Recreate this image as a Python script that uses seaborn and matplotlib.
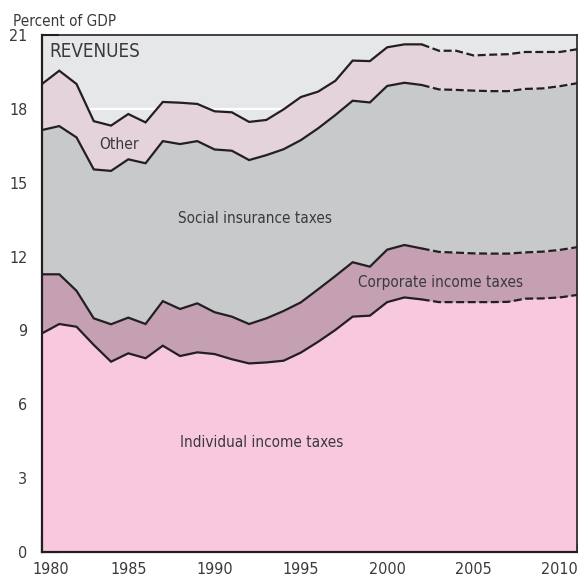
import matplotlib
matplotlib.use("Agg")
import matplotlib.pyplot as plt
import matplotlib.transforms as mtransforms
import numpy as np
import pandas as pd
import seaborn as sns

# Federal revenues by source, percent of GDP (actual through 2002, projected after)
years = list(range(1980, 2012))
individual = [8.88, 9.26, 9.15, 8.41, 7.73, 8.07, 7.87, 8.38, 7.96, 8.11,
              8.04, 7.83, 7.66, 7.70, 7.77, 8.10, 8.54, 9.02, 9.56, 9.60,
              10.15, 10.34, 10.26, 10.15, 10.15, 10.15, 10.15, 10.16, 10.29, 10.30,
              10.34, 10.44]
corporate = [2.40, 2.02, 1.46, 1.08, 1.52, 1.45, 1.39, 1.81, 1.91, 1.99,
             1.70, 1.73, 1.60, 1.79, 2.02, 2.04, 2.13, 2.19, 2.21, 1.99,
             2.13, 2.13, 2.07, 2.04, 2.01, 1.98, 1.97, 1.96, 1.88, 1.90,
             1.93, 1.94]
social_insurance = [5.86, 6.02, 6.23, 6.05, 6.23, 6.43, 6.53, 6.50, 6.70, 6.59,
                    6.61, 6.74, 6.66, 6.63, 6.57, 6.59, 6.54, 6.54, 6.56, 6.67,
                    6.65, 6.59, 6.64, 6.60, 6.61, 6.61, 6.60, 6.60, 6.64, 6.63,
                    6.65, 6.66]
other = [1.87, 2.25, 2.17, 1.96, 1.84, 1.84, 1.66, 1.59, 1.68, 1.51,
         1.55, 1.56, 1.55, 1.43, 1.62, 1.75, 1.49, 1.39, 1.63, 1.68,
         1.57, 1.56, 1.65, 1.57, 1.59, 1.43, 1.48, 1.50, 1.50, 1.48,
         1.39, 1.38]
last_actual_year = 2002

category_names = ["Individual income taxes", "Corporate income taxes",
                  "Social insurance taxes", "Other"]
y_ticks = [0, 3, 6, 9, 12, 15, 18, 21]
x_major_ticks = [1980, 1985, 1990, 1995, 2000, 2005, 2010]

colors = {
    "Individual income taxes": "#f8c9de",
    "Corporate income taxes": "#c5a0b2",
    "Social insurance taxes": "#c8c9cb",
    "Other": "#e4d3db",
}
bg_color = "#e6e7e9"
line_color = "#231f20"
text_color = "#3a3a3a"

sns.set_style("white")
plt.rcParams["font.family"] = ["DejaVu Sans"]
plt.rcParams["font.stretch"] = "condensed"
plt.rcParams["font.size"] = 11

df = pd.DataFrame({
    "year": years,
    "Individual income taxes": individual,
    "Corporate income taxes": corporate,
    "Social insurance taxes": social_insurance,
    "Other": other,
})
stacked = df[category_names].cumsum(axis=1)
stacked["year"] = df["year"]

fig = plt.figure(figsize=(5.78, 5.77), dpi=100)
ax = fig.add_axes([42 / 578, 25 / 577, 535 / 578, 517 / 577])
ax.set_facecolor(bg_color)

# White horizontal rules behind the filled bands
for yv in y_ticks:
    ax.axhline(yv, color="white", lw=1.6, zorder=0.5)

# Stacked bands
lower = np.zeros(len(years))
for name in category_names:
    upper = stacked[name].to_numpy()
    ax.fill_between(years, lower, upper, color=colors[name], lw=0, zorder=1)
    lower = upper

# Boundary lines: solid for actual years, dashed for projections
actual = stacked[stacked["year"] <= last_actual_year]
projected = stacked[stacked["year"] >= last_actual_year]
for name in category_names:
    sns.lineplot(data=actual, x="year", y=name, ax=ax, color=line_color,
                 lw=1.6, zorder=3, solid_joinstyle="miter")
    sns.lineplot(data=projected, x="year", y=name, ax=ax, color=line_color,
                 lw=1.6, zorder=3, linestyle=(0, (3.6, 1.6)))

ax.set_xlim(1980, 2011)
ax.set_ylim(0, 21)
ax.set_xlabel("")
ax.set_ylabel("")

ax.set_yticks(y_ticks)
ax.set_yticklabels([str(v) for v in y_ticks])
ax.set_xticks(x_major_ticks)
ax.set_xticklabels([str(v) for v in x_major_ticks])
ax.set_xticks(years[1:], minor=True)

ax.tick_params(axis="y", which="major", direction="in", length=12, width=1.5,
               color=line_color, labelcolor=text_color, labelsize=11.5,
               pad=10.5, left=True, right=False)
ax.tick_params(axis="x", which="major", direction="in", length=12, width=1.5,
               color=line_color, labelcolor=text_color, labelsize=11.5,
               pad=7, bottom=True, top=False)
ax.tick_params(axis="x", which="minor", direction="in", length=6, width=1.5,
               color=line_color, bottom=True, top=False)

# Nudge the first year label inside the frame
first_label = ax.get_xticklabels()[0]
first_label.set_transform(first_label.get_transform() +
                          mtransforms.ScaledTranslation(9 / 100, 0, fig.dpi_scale_trans))

for side in ["left", "bottom"]:
    ax.spines[side].set_color(line_color)
    ax.spines[side].set_linewidth(1.6)
    ax.spines[side].set_zorder(4)
for side in ["top", "right"]:
    ax.spines[side].set_color(line_color)
    ax.spines[side].set_linewidth(1.2)
    ax.spines[side].set_zorder(4)

# Labels
ax.text(1980.42, 20.11, "REVENUES", ha="left", va="baseline",
        fontsize=13.5, color=text_color, zorder=5)
ax.text(1984.47, 16.37, "Other", ha="center", va="baseline",
        fontsize=11.2, color=text_color, zorder=5)
ax.text(1992.32, 13.36, "Social insurance taxes", ha="center", va="baseline",
        fontsize=11, color=text_color, zorder=5)
ax.text(2003.10, 10.76, "Corporate income taxes", ha="center", va="baseline",
        fontsize=11, color=text_color, zorder=5)
ax.text(1992.74, 4.26, "Individual income taxes", ha="center", va="baseline",
        fontsize=11, color=text_color, zorder=5)
fig.text(13 / 578, 1 - 26.5 / 577, "Percent of GDP", ha="left", va="baseline",
         fontsize=11, color=text_color)

fig.savefig("out.png", dpi=100)
